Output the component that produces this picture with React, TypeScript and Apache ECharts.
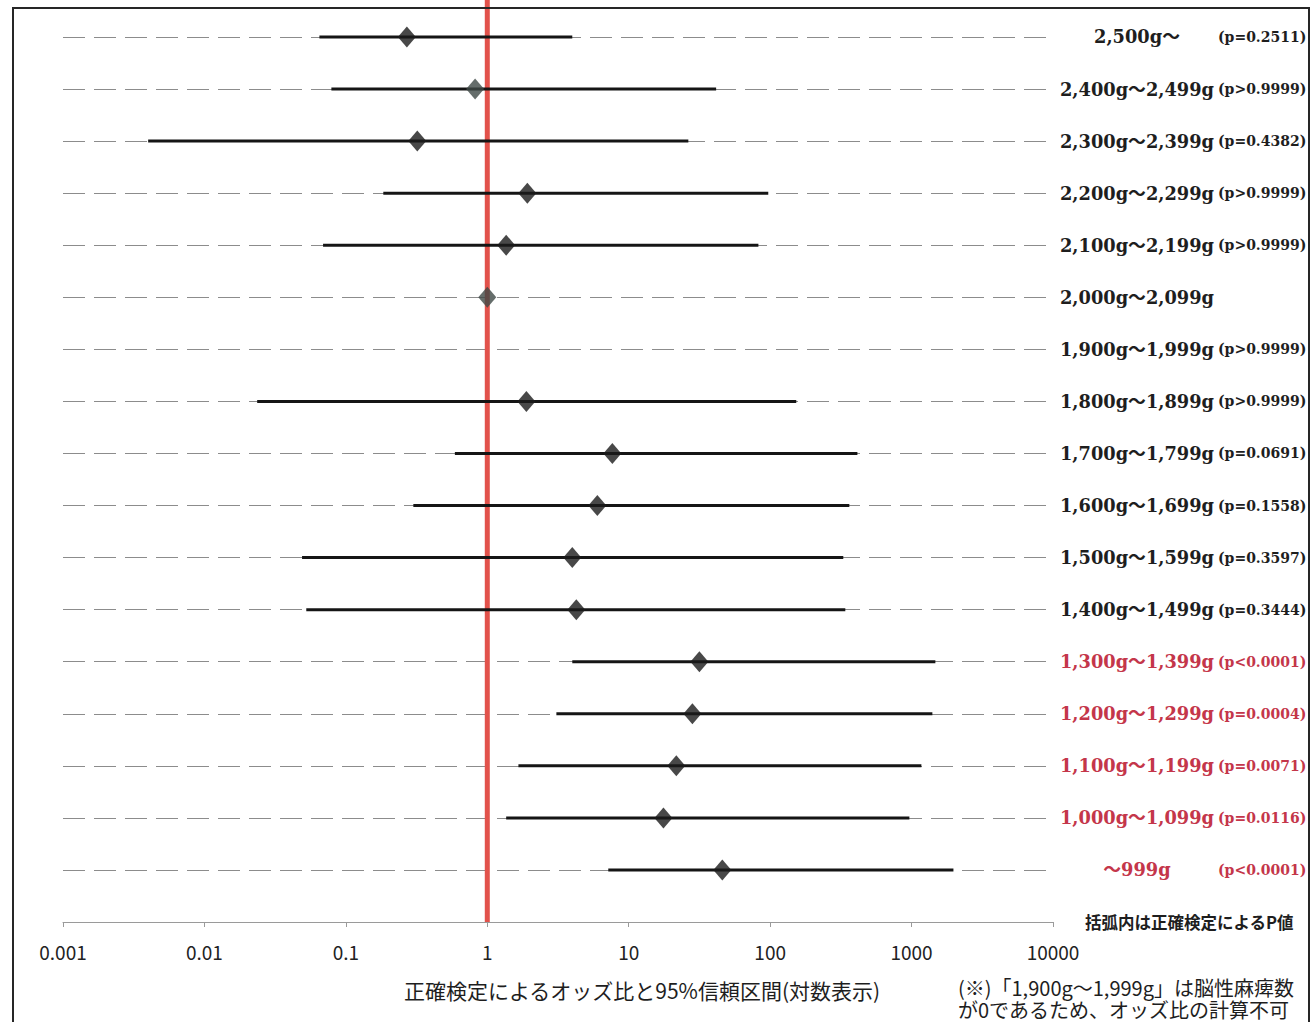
import React, { useEffect, useRef } from "react";
import * as echarts from "echarts";

// Row labels (top to bottom)
const rows = [
  "2,500g～",
  "2,400g～2,499g",
  "2,300g～2,399g",
  "2,200g～2,299g",
  "2,100g～2,199g",
  "2,000g～2,099g",
  "1,900g～1,999g",
  "1,800g～1,899g",
  "1,700g～1,799g",
  "1,600g～1,699g",
  "1,500g～1,599g",
  "1,400g～1,499g",
  "1,300g～1,399g",
  "1,200g～1,299g",
  "1,100g～1,199g",
  "1,000g～1,099g",
  "～999g",
];
const pValues = [
  "(p=0.2511)",
  "(p>0.9999)",
  "(p=0.4382)",
  "(p>0.9999)",
  "(p>0.9999)",
  "",
  "(p>0.9999)",
  "(p>0.9999)",
  "(p=0.0691)",
  "(p=0.1558)",
  "(p=0.3597)",
  "(p=0.3444)",
  "(p<0.0001)",
  "(p=0.0004)",
  "(p=0.0071)",
  "(p=0.0116)",
  "(p<0.0001)",
];
const significant = [
  false, false, false, false, false, false, false, false, false, false, false, false,
  true, true, true, true, true,
];
const oddsRatio = [0.27, 0.82, 0.32, 1.92, 1.36, 1, null, 1.89, 7.66, 6.0, 3.99, 4.26, 31.6, 28.2, 21.7, 17.6, 45.9];
const ciLower = [0.065, 0.079, 0.004, 0.184, 0.069, null, null, 0.0236, 0.59, 0.3, 0.049, 0.0525, 3.99, 3.08, 1.66, 1.36, 7.17];
const ciUpper = [3.99, 41.5, 26.4, 97, 82.6, null, null, 153, 414, 363, 329, 340, 1473, 1403, 1173, 965, 1977];
const xTicks = [0.001, 0.01, 0.1, 1, 10, 100, 1000, 10000];
const greyMarkerRows = ["2,400g～2,499g", "2,000g～2,099g"];

const axisTitle = "正確検定によるオッズ比と95%信頼区間(対数表示)";
const pNote = "括弧内は正確検定によるP値";
const footnoteLines = ["(※)「1,900g～1,999g」は脳性麻痺数", "が0であるため、オッズ比の計算不可"];

const SANS = "'Noto Sans CJK JP', 'Noto Sans', sans-serif";
const SERIF = "'DejaVu Serif', 'Noto Sans CJK JP', serif";
const Y_MAX = 17.71;

export default function App() {
  const ref = useRef<HTMLDivElement>(null);
  useEffect(() => {
    if (!ref.current) return;
    const chart = echarts.init(ref.current, null, { renderer: "svg" });
    const n = rows.length;
    const yOf = (i: number) => n - i;

    const points: any[] = [];
    oddsRatio.forEach((v, i) => {
      if (v == null) return;
      const grey = greyMarkerRows.includes(rows[i]);
      points.push({ value: [v, yOf(i)], itemStyle: { color: grey ? "#3e4846" : "#1a1a1a" } });
    });
    const ci: any[] = [];
    ciLower.forEach((lo, i) => {
      const hi = ciUpper[i];
      if (lo == null || hi == null) return;
      ci.push([lo, hi, yOf(i)]);
    });

    chart.setOption({
      animation: false,
      backgroundColor: "#ffffff",
      grid: { left: 63, right: 259, top: 0, bottom: 100, containLabel: false },
      xAxis: {
        type: "log",
        logBase: 10,
        min: xTicks[0],
        max: xTicks[xTicks.length - 1],
        splitNumber: 7,
        axisLine: { show: true, lineStyle: { color: "#9a9a9a", width: 1 } },
        axisTick: { show: true, length: 5, lineStyle: { color: "#9a9a9a" } },
        splitLine: { show: false },
        minorTick: { show: false },
        axisLabel: {
          margin: 20,
          color: "#222",
          fontFamily: SANS,
          fontSize: 19,
          formatter: (v: number) => {
            const found = xTicks.find((t) => Math.abs(Math.log10(t) - Math.log10(v)) < 1e-6);
            return found != null ? String(found) : "";
          },
        },
      },
      yAxis: [
        {
          type: "value",
          min: 0,
          max: Y_MAX,
          interval: 1,
          axisLine: { show: false },
          axisTick: { show: false },
          axisLabel: { show: false },
          splitLine: {
            show: true,
            showMaxLine: false,
            lineStyle: { color: "#8c8c8c", width: 1, type: [22, 9] },
          },
        },
        {
          type: "value",
          position: "right",
          min: 0,
          max: Y_MAX,
          interval: 1,
          axisLine: { show: false },
          axisTick: { show: false },
          splitLine: { show: false },
          axisLabel: {
            margin: 3,
            align: "left",
            formatter: (v: number) => {
              const i = n - Math.round(v);
              if (Math.abs(v - Math.round(v)) > 1e-6 || i < 0 || i >= n) return "";
              const red = significant[i];
              const m = red ? "mr" : "m";
              const p = red ? "pr" : "p";
              return `{${m}|${rows[i]}}` + (pValues[i] ? `{${p}|${pValues[i]}}` : "");
            },
            rich: {
              m: { fontFamily: SERIF, fontWeight: "bold", fontSize: 17.8, color: "#1e1e1e", width: 162, align: "center" },
              mr: { fontFamily: SERIF, fontWeight: "bold", fontSize: 17.8, color: "#c4364a", width: 162, align: "center" },
              p: { fontFamily: SERIF, fontWeight: "bold", fontSize: 14, color: "#1e1e1e", align: "left" },
              pr: { fontFamily: SERIF, fontWeight: "bold", fontSize: 14, color: "#c4364a", align: "left" },
            },
          },
        },
      ],
      series: [
        {
          type: "line",
          data: [
            [1, 0],
            [1, Y_MAX],
          ],
          symbol: "none",
          lineStyle: { color: "#e2524b", width: 5 },
          z: 1,
          silent: true,
        },
        {
          type: "custom",
          data: ci,
          z: 2,
          renderItem: (params: any, api: any) => {
            const a = api.coord([api.value(0), api.value(2)]);
            const b = api.coord([api.value(1), api.value(2)]);
            return {
              type: "line",
              shape: { x1: a[0], y1: a[1], x2: b[0], y2: b[1] },
              style: { stroke: "#151515", lineWidth: 3 },
            };
          },
          encode: { x: [0, 1], y: 2 },
        },
        {
          type: "scatter",
          data: points,
          symbol: "diamond",
          symbolSize: [18, 21],
          z: 3,
        },
      ],
      graphic: [
        {
          type: "rect",
          shape: { x: 13, y: 8, width: 1296, height: 1040 },
          style: { fill: "none", stroke: "#262626", lineWidth: 2 },
          z: 10,
        },
        {
          type: "text",
          x: 642,
          y: 990,
          style: {
            text: axisTitle,
            fontFamily: SANS,
            fontSize: 21,
            fill: "#1e1e1e",
            textAlign: "center",
            textVerticalAlign: "middle",
          },
        },
        {
          type: "text",
          x: 1085,
          y: 922,
          style: {
            text: pNote,
            fontFamily: SANS,
            fontWeight: "bold",
            fontSize: 16.5,
            fill: "#1e1e1e",
            textAlign: "left",
            textVerticalAlign: "middle",
          },
        },
        {
          type: "text",
          x: 958,
          y: 976,
          style: {
            text: footnoteLines.join("\n"),
            fontFamily: SANS,
            fontSize: 20,
            lineHeight: 22,
            fill: "#1e1e1e",
            textAlign: "left",
            textVerticalAlign: "top",
          },
        },
      ],
    });
    return () => chart.dispose();
  }, []);
  return (
    <div
      ref={ref}
      style={{ position: "absolute", left: 0, top: 0, width: 1312, height: 1022 }}
    />
  );
}
